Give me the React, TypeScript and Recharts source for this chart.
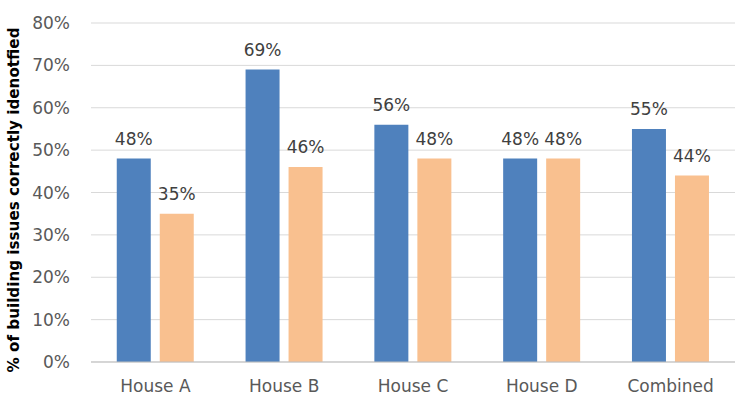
import { BarChart, Bar, XAxis, YAxis, CartesianGrid, LabelList } from "recharts";

const categories = ["House A", "House B", "House C", "House D", "Combined"];
const seriesOne = [48, 69, 56, 48, 55];
const seriesTwo = [35, 46, 48, 48, 44];
const yTicks = [0, 10, 20, 30, 40, 50, 60, 70, 80];

const chartData = categories.map((name, i) => ({
  name,
  first: seriesOne[i],
  second: seriesTwo[i],
}));

const font = "'DejaVu Sans', sans-serif";

function AxisTitle() {
  const cx = 14;
  const cy = 200;
  return (
    <text
      x={cx}
      y={cy}
      transform={`rotate(-90, ${cx}, ${cy})`}
      textAnchor="middle"
      dominantBaseline="central"
      fontFamily={font}
      fontWeight="bold"
      fontSize={15}
      fill="#000"
      textLength={345}
      lengthAdjust="spacingAndGlyphs"
    >
      % of building issues correctly idenotfied
    </text>
  );
}

export default function App() {
  return (
    <div style={{ position: "absolute", left: 0, top: 0, background: "#fff" }}>
      <BarChart
        width={744}
        height={409}
        data={chartData}
        margin={{ top: 23, right: 9, bottom: 0, left: 0 }}
        barCategoryGap="20%"
        barGap={9}
      >
        <CartesianGrid vertical={false} stroke="#d9d9d9" />
        <XAxis
          dataKey="name"
          height={47}
          tickLine={false}
          tickSize={0}
          tickMargin={18}
          stroke="#bfbfbf"
          tick={{ fill: "#595959", fontSize: 17, fontFamily: font }}
        />
        <YAxis
          width={91}
          domain={[0, 80]}
          ticks={yTicks}
          tickFormatter={(v: number) => `${v}%`}
          axisLine={false}
          tickLine={false}
          tickSize={0}
          tickMargin={21}
          tick={{ fill: "#595959", fontSize: 17, fontFamily: font }}
          label={<AxisTitle />}
        />
        <Bar dataKey="first" fill="#4f81bd" isAnimationActive={false}>
          <LabelList
            dataKey="first"
            position="top"
            offset={14}
            formatter={(v: any) => `${v}%`}
            style={{ fill: "#404040", fontSize: 17, fontFamily: font }}
          />
        </Bar>
        <Bar dataKey="second" fill="#f9c08f" isAnimationActive={false}>
          <LabelList
            dataKey="second"
            position="top"
            offset={14}
            formatter={(v: any) => `${v}%`}
            style={{ fill: "#404040", fontSize: 17, fontFamily: font }}
          />
        </Bar>
      </BarChart>
    </div>
  );
}
